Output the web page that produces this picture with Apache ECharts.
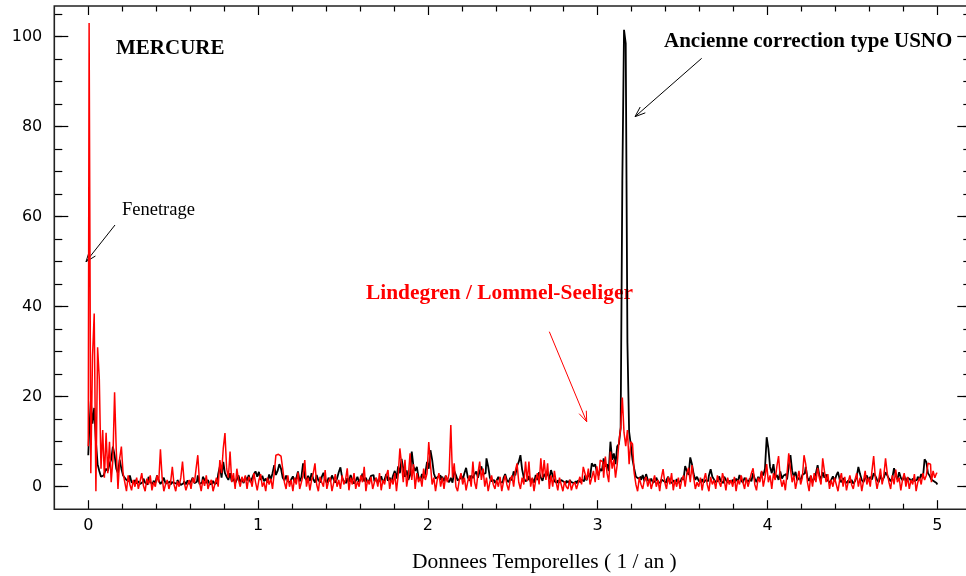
<!DOCTYPE html>
<html>
<head>
<meta charset="utf-8">
<script src="https://cdn.jsdelivr.net/npm/echarts@6/dist/echarts.min.js"></script>
<style>html,body{margin:0;padding:0;background:#fff}#chart{width:966px;height:576px}</style>
</head>
<body>
<div id="chart"></div>
<script>
// frequency grid (1/an): 0 .. 5 with step 0.01
const freqStart = 0;
const freqStep = 0.01;
const xTickLabels = ['0','1','2','3','4','5'];
const yTickLabels = ['0','20','40','60','80','100'];

// "Ancienne correction type USNO" (black)
const blackPower = [
 7,12,19,14,17.5,10,5,3.5,2.2,2.5,
 3,4,3.5,5,6,8.9,7,4,3,6,
 4,2.5,2,1.5,1.2,2.5,1,0.8,1.5,0.7,
 1.2,0.6,1,1.8,0.9,0.5,2.2,1,0.6,1.3,
 0.8,2.5,1.4,0.6,1.1,2,0.7,0.9,1.2,0.5,
 1,0.8,0.6,1.5,0.9,0.4,0.7,1.2,0.5,1.4,
 0.6,1.2,2,0.8,1.1,2.5,0.6,0.9,2.2,1.5,
 0.8,1.5,0.5,0.7,1.3,0.6,0.9,2.8,4.5,2,
 5.5,3,2.2,1.5,3,1.2,1.8,0.8,1.6,2.5,
 1,1.7,0.8,2.2,1.4,2.6,1,1.9,2.8,3.4,
 2.2,3.3,1.5,2.4,1.2,1.8,0.9,2.7,1.6,3,
 4.8,2.6,3.5,5,4,2,1.4,2.5,1.2,0.9,
 1.6,2.3,1,1.9,3.4,1.2,2.1,5.2,2,1.5,
 2.4,1.3,3,1.7,0.9,2.6,1.4,1,2.2,3.1,
 1.5,0.8,2,1.2,2.5,1.6,0.9,1.8,3.2,4.3,
 2,1.2,0.8,1.9,1.1,2.6,1.4,0.7,1.3,2.2,
 1,1.7,2.9,1.2,2,0.9,1.5,2.4,2.6,1.2,
 1.9,0.8,1.4,2.3,1,1.6,2.8,1.3,2,1.1,
 2.5,3.5,1.8,4.5,3,6.2,4,2.2,3.6,1.5,
 2.6,7.8,4.5,3.5,4.4,2,1.4,2.8,1.9,3,
 5.5,4,8.1,6,3,1.8,2.2,2.5,1.5,2.2,
 1.2,2.4,1.5,1,2,0.9,3.5,2.6,1.4,1.8,
 2.6,1.6,3,4.2,2.1,1.3,2.5,1.9,2.8,3.4,
 2,3.5,4.5,2.8,3,6.3,4.5,2,1.2,1.5,
 0.8,1.4,2.2,1.1,0.9,1.9,2.8,1.5,1,2,
 1.4,3.4,2.5,4.6,5.5,7,3.8,2,1.2,1.6,
 2.4,1.1,1.8,0.9,2.6,1.5,3.2,2,1.3,2.8,
 2.2,3.3,1.6,3.7,2.5,1.2,0.8,1.4,0.9,1.5,
 1.1,0.8,1.3,0.9,1.5,1,0.8,1.2,0.7,1.4,
 1,1.6,1.2,2.5,1.4,3,2,5.2,4.5,5,
 3.3,2.5,4,3.5,6.3,4.5,5,3.5,10,6,
 7.4,5,9,9.5,13,68,101.5,98.5,32,12.2,
 9.3,6,4,2.2,1.8,2.2,1.5,2.6,1.2,2.8,
 1.5,1,1.8,0.9,1.3,2,1.1,0.8,1.6,1.2,
 0.9,1.5,2.2,1.1,0.8,1.4,1,1.7,0.9,1.3,
 2,1.5,4.6,3.5,2.6,6.5,5,2.8,1.5,2.2,
 1.3,1,1.7,0.9,1.5,1.2,2.5,3.9,2.2,1.6,
 1,1.4,2.3,1.2,0.8,2.2,1.5,0.9,1.3,1,
 1.6,0.9,1.8,1.1,2.6,1.4,0.9,2,1.5,1.1,
 1.8,1.2,3,1.7,1,2.2,1.4,3.3,2.5,4,
 11,8.5,4.4,3,5,2,2.6,1.5,3.4,1.8,
 2.5,2.8,1.6,4.5,7,3.5,2.2,3.3,1.4,2,
 1.5,2.6,3,4.4,2,1.3,2.4,1,1.8,3,
 4.8,2.5,1.6,3.2,2,2.7,1.4,0.9,1.5,2.3,
 1.2,2.5,3.3,1.6,1,1.9,1.2,0.8,1.4,0.9,
 1.5,0.7,1.2,2.2,4.4,2.8,1.5,1,1.9,2.5,
 1.4,2.2,1.6,3,2.4,1.5,1,2.6,1.3,2,
 3.2,2.5,1.8,1.2,2,4.1,2.5,1.6,3.2,2,
 1.4,2.4,1.2,2,1.6,1,1.8,1.3,1.5,2.2,
 1.6,2.8,1.9,6.1,5.5,3,2.4,1.6,1.2,0.8,
 0.5
];

// "Lindegren / Lommel-Seeliger" (red)
const redPower = [
 9,103,3,29,38.5,-1,31,24,4,12.6,
 2,12,3,10,1,6,21,8,-0.5,6.3,
 8.9,3,1,-1,2.5,0.5,-0.8,1.5,0,2,
 -0.5,1.2,3,0.2,-1,1.8,0.5,2.5,-0.8,1,
 0,2.5,1,8.3,2,-1,0.5,1.5,-0.5,1,
 4.4,0.5,-1,1.2,0,2,5.6,1,-0.8,0.5,
 1.5,-0.5,2,0.8,4,7,1,-1,1.6,0.2,
 2.5,-0.5,0.8,1.5,-1,0.5,2,0,5.9,3,
 8.5,11.9,4,2,7.8,1,3,-0.5,4,1.5,
 0,2.2,1,2.5,-0.5,2.2,1.5,0,3,1,
 -0.8,1.5,2.8,0,1,-1,2,0.5,1.8,-0.5,
 3,7,7.2,6.8,7,4,1,-0.5,2.5,0,
 1.5,-1,2,0.5,3.2,-0.5,1,2.5,5.9,0,
 2,-0.8,1.5,3,5.2,0.5,-1,2.2,1,0,
 3.7,-0.5,1.2,2,-1,0.8,2.8,0,1.5,-0.5,
 2.5,0.5,1.5,4.1,-0.8,2,0.5,3,-0.5,1.2,
 0,2.5,1,4.4,-1,1.5,0.5,2.2,-0.5,1,
 2,0,3,-0.8,1.5,0.5,2.5,3.7,-0.5,1.8,
 0.5,3,-1,2.5,8.5,5,1,6,0,2.5,
 7.4,1.5,5,-0.5,3,1,2.2,0,4,1.5,
 3,9.9,5,0.5,2,-1,1.5,3,0,2,
 -0.5,2.5,1,3,13.7,2,5.2,0,-1,1.5,
 3,0.5,2,-0.8,1.2,2.5,0,5.6,1,-0.5,
 3,5.6,1.5,4,0,2,-1,1,2.5,0.5,
 -0.5,1.5,0,2.2,-1,1,2.5,0.5,-0.8,1.5,
 2.5,0,3.5,5.2,1,-0.5,2,0.5,5.6,1.2,
 5.6,0,2,-1,1.5,3,0.5,6.3,2,5.9,
 1.5,5.2,-0.5,2.5,0,3.5,1,-0.8,2,0.5,
 -1,1.2,0,-0.5,1.5,-0.8,0.5,1,-0.5,0.8,
 2.2,0.5,4.4,3,1.5,4,0.5,2,3.5,1,
 4.5,1.5,5.9,5.5,2,6.7,3,1,7.8,4,
 6,2,5,10,13,19.8,12,9,12.6,5,
 10,9.5,3,0.5,-1,2,0.5,-0.5,1.5,2.2,
 0,1.8,-0.5,1,2.5,0,1.5,-1,2,3.9,
 1,-0.5,2.2,0.5,3,-0.8,1.5,0,2,-0.5,
 1.5,2.5,0,3,4.2,1,4.8,2,-0.5,1,
 0,2,-0.8,1.5,3,0.5,-1,2.2,0.5,1.5,
 -0.5,2.5,1,0,3,1.5,-0.8,2,0.5,1.5,
 0,2.2,-1,1.5,0.5,2.5,1,-0.5,2,0,
 1.5,3,4.1,0.5,-0.8,2,1,3.5,0,2,
 5,1,2.5,-0.5,3,1.5,4.5,6.8,2,0,
 1.5,-0.8,3,7.4,4,1,2.5,-0.5,1.5,3.5,
 0.5,2,7,5,1,-1,2.5,0,3,1,
 4.2,2,0.5,6.3,3.5,1,2.8,-0.5,1.5,0,
 2,0.5,-1,1.5,3,0,2.2,-0.8,1,2.5,
 0.5,-0.5,1.5,3,0,2,-1,1.2,3.5,0.5,
 2,0,3.5,6.8,2,-0.5,1.5,4,0.5,2.5,
 6.3,3,1,-0.5,2.5,0.5,3.8,1,2,-0.8,
 1.5,3,0,2.2,-0.5,1.5,0.5,2.8,-1,1,
 2,0.5,3,1.5,2.5,5.2,5,1,3.5,2,
 3
];

function pairs(vals){
  return vals.map((v,i)=>[+(freqStart + i*freqStep).toFixed(4), v]);
}

// layout constants (pixels)
const L = 54.3, T = 6, W = 917, H = 503.2;           // frame: x -0.2..5.2, y -5..106.8
const X0 = L + 0.2*W/5.4, XW = 5*W/5.4;              // x 0..5
const YPX = H/111.8;
const Y100 = T + 6.8*YPX, Y0 = T + 106.8*YPX, Y105 = T + 1.8*YPX;

const chart = echarts.init(document.getElementById('chart'), null, {renderer:'canvas'});

function arrow(x1,y1,x2,y2,color,w){
  const dx=x2-x1, dy=y2-y1, len=Math.hypot(dx,dy);
  const ux=dx/len, uy=dy/len, hl=11, a=0.36;
  const bx=-ux*hl, by=-uy*hl;
  const c=Math.cos(a), s=Math.sin(a);
  const p1=[x2+bx*c-by*s, y2+bx*s+by*c];
  const p2=[x2+bx*c+by*s, y2-bx*s+by*c];
  return [
    {type:'line', shape:{x1,y1,x2,y2}, style:{stroke:color,lineWidth:w}, silent:true},
    {type:'polyline', shape:{points:[p1,[x2,y2],p2]}, style:{stroke:color,lineWidth:w,fill:null}, silent:true}
  ];
}

const tickStyle = {color:'#000', width:1.2};
const labelFont = {fontFamily:'DejaVu Sans', fontSize:16, color:'#000'};
const gridBase = {outerBoundsMode:'none', containLabel:false};

const option = {
  animation:false,
  backgroundColor:'#fff',
  grid:[
    Object.assign({left:L, top:T, width:W, height:H, show:true, borderColor:'#222', borderWidth:1.6, backgroundColor:'transparent', z:5}, gridBase),
    Object.assign({left:X0, top:T, width:XW, height:H, show:false}, gridBase),
    Object.assign({left:L, top:Y100, width:W, height:Y0-Y100, show:false}, gridBase),
    Object.assign({left:L, top:Y105, width:W, height:Y0-Y105, show:false}, gridBase)
  ],
  xAxis:[
    {gridIndex:0, type:'value', min:-0.2, max:5.2, show:false},
    {gridIndex:1, type:'value', min:0, max:5, interval:1, position:'bottom',
      axisLine:{show:false}, splitLine:{show:false},
      axisTick:{show:true, inside:true, length:9, lineStyle:tickStyle},
      minorTick:{show:true, splitNumber:5, length:5.5, lineStyle:tickStyle},
      axisLabel:Object.assign({show:true, margin:9, formatter:(v)=>xTickLabels[Math.round(v)]}, labelFont)},
    {gridIndex:1, type:'value', min:0, max:5, interval:1, position:'top',
      axisLine:{show:false}, splitLine:{show:false},
      axisTick:{show:true, inside:true, length:9, lineStyle:tickStyle},
      minorTick:{show:true, splitNumber:5, length:5.5, lineStyle:tickStyle},
      axisLabel:{show:false}},
    {gridIndex:2, type:'value', min:0, max:1, show:false},
    {gridIndex:3, type:'value', min:0, max:1, show:false}
  ],
  yAxis:[
    {gridIndex:0, type:'value', min:-5, max:106.8, show:false},
    {gridIndex:1, type:'value', min:0, max:1, show:false},
    {gridIndex:2, type:'value', min:0, max:100, interval:20, position:'left',
      axisLine:{show:false}, splitLine:{show:false},
      axisTick:{show:true, inside:true, length:14, lineStyle:tickStyle},
      minorTick:{show:false},
      axisLabel:Object.assign({show:true, margin:12, formatter:(v)=>yTickLabels[Math.round(v/20)]}, labelFont)},
    {gridIndex:2, type:'value', min:0, max:100, interval:20, position:'right',
      axisLine:{show:false}, splitLine:{show:false},
      axisTick:{show:true, inside:true, length:14, lineStyle:tickStyle},
      axisLabel:{show:false}},
    {gridIndex:3, type:'value', min:0, max:105, interval:5, position:'left',
      axisLine:{show:false}, splitLine:{show:false},
      axisTick:{show:true, inside:true, length:8, lineStyle:tickStyle},
      axisLabel:{show:false}},
    {gridIndex:3, type:'value', min:0, max:105, interval:5, position:'right',
      axisLine:{show:false}, splitLine:{show:false},
      axisTick:{show:true, inside:true, length:8, lineStyle:tickStyle},
      axisLabel:{show:false}}
  ],
  series:[
    {name:'Ancienne correction type USNO', type:'line', xAxisIndex:0, yAxisIndex:0,
      data:pairs(blackPower), step:'middle', showSymbol:false, symbol:'none',
      lineStyle:{color:'#000', width:1.8}, z:2},
    {name:'Lindegren / Lommel-Seeliger', type:'line', xAxisIndex:0, yAxisIndex:0,
      data:pairs(redPower), step:'middle', showSymbol:false, symbol:'none',
      lineStyle:{color:'#ff0000', width:1.5}, z:3}
  ],
  graphic:[
    {type:'text', left:116, top:38, style:{text:'MERCURE', font:'bold 21px "Liberation Serif"', fill:'#000'}},
    {type:'text', left:664, top:31, style:{text:'Ancienne correction type USNO', font:'bold 21px "Liberation Serif"', fill:'#000'}},
    {type:'text', left:122, top:201, style:{text:'Fenetrage', font:'18.5px "Liberation Serif"', fill:'#000'}},
    {type:'text', left:366, top:283, style:{text:'Lindegren / Lommel-Seeliger', font:'bold 21.4px "Liberation Serif"', fill:'#ff0000'}},
    {type:'text', left:412, top:551, style:{text:'Donnees Temporelles ( 1 / an )', font:'21.5px "Liberation Serif"', fill:'#000'}},
    ...arrow(115,225,86,261.7,'#000',1),
    ...arrow(701.7,58.3,635,116.7,'#000',1),
    ...arrow(549.3,331.7,586.7,421.7,'#ff0000',1)
  ]
};
chart.setOption(option);
</script>
</body>
</html>
